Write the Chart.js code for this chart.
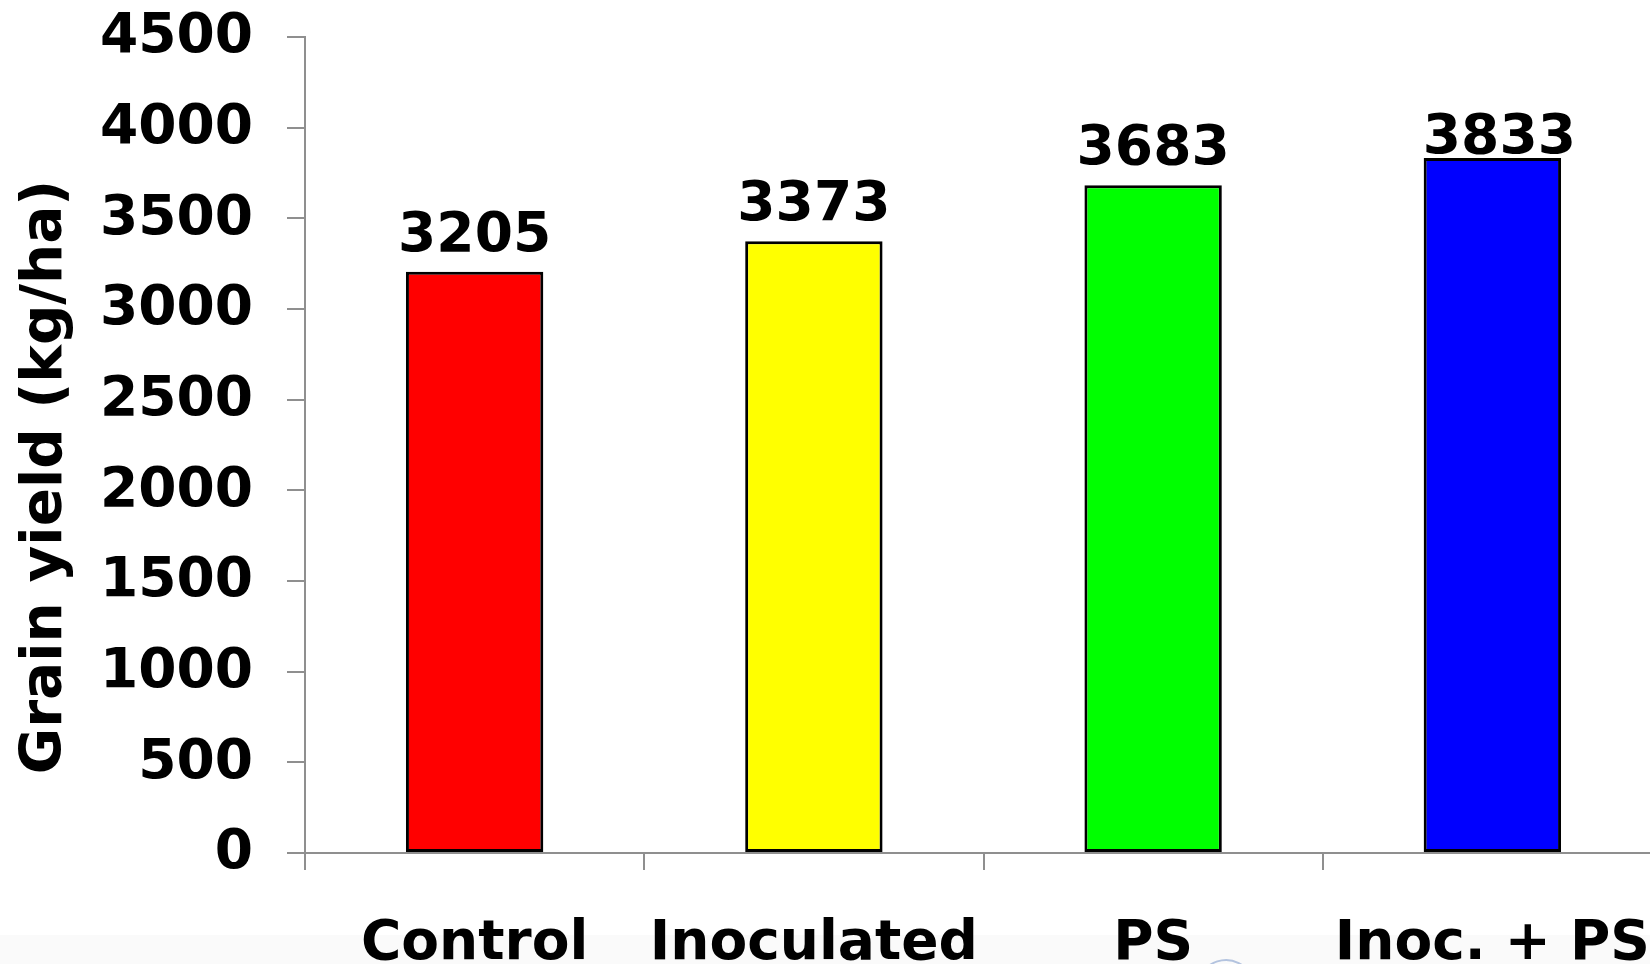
<!DOCTYPE html>
<html>
<head>
<meta charset="utf-8">
<script src="https://cdn.jsdelivr.net/npm/chart.js@4"></script>
<style>
  html, body { margin: 0; padding: 0; background: #ffffff; overflow: hidden; width: 1650px; height: 964px; }
  canvas { display: block; }
</style>
</head>
<body>
<canvas id="yieldChart" width="1662" height="964"></canvas>
<script>
// Grain yield by treatment
const categories = ['Control', 'Inoculated', 'PS', 'Inoc. + PS'];
const grainYield = [3205, 3373, 3683, 3833];
const barColors = ['#ff0000', '#ffff00', '#00ff00', '#0000ff'];
const yTicks = { min: 0, max: 4500, step: 500 };
const yTitle = 'Grain yield (kg/ha)';

const FONT = '"DejaVu Sans", Verdana, sans-serif';
const AXIS_GREY = '#8f8f8f';

// Page background with the pale strip along the bottom edge
const backdrop = {
  id: 'backdrop',
  beforeDraw(chart) {
    const ctx = chart.ctx;
    ctx.save();
    ctx.fillStyle = '#ffffff';
    ctx.fillRect(0, 0, chart.width, chart.height);
    ctx.fillStyle = '#fafafa';
    ctx.fillRect(0, 935, chart.width, chart.height - 935);
    ctx.strokeStyle = 'rgba(120,150,200,0.55)';
    ctx.lineWidth = 2;
    ctx.beginPath();
    ctx.arc(1226, 988, 28, Math.PI * 1.15, Math.PI * 1.85);
    ctx.stroke();
    ctx.restore();
  }
};

// Rotated y-axis title
const sideTitle = {
  id: 'sideTitle',
  afterDraw(chart, args, opts) {
    const ctx = chart.ctx;
    ctx.save();
    ctx.translate(opts.x, opts.y);
    ctx.rotate(-Math.PI / 2);
    ctx.font = 'bold 56.5px ' + FONT;
    ctx.fillStyle = '#000000';
    ctx.textAlign = 'center';
    ctx.textBaseline = 'middle';
    ctx.fillText(opts.text, 0, 0);
    ctx.restore();
  }
};

// Value printed above each bar
const barValues = {
  id: 'barValues',
  afterDatasetsDraw(chart, args, opts) {
    const ctx = chart.ctx;
    const meta = chart.getDatasetMeta(0);
    ctx.save();
    ctx.font = 'bold 55px ' + FONT;
    ctx.fillStyle = '#000000';
    ctx.textAlign = 'center';
    ctx.textBaseline = 'alphabetic';
    meta.data.forEach((bar, i) => {
      const v = chart.data.datasets[0].data[i];
      const dx = (opts.shiftX && opts.shiftX[i]) || 0;
      const gap = (opts.gap && opts.gap[i] != null) ? opts.gap[i] : 21;
      ctx.fillText(String(v), bar.x + dx, bar.y - gap);
    });
    ctx.restore();
  }
};

new Chart(document.getElementById('yieldChart'), {
  type: 'bar',
  data: {
    labels: categories,
    datasets: [{
      data: grainYield,
      backgroundColor: barColors,
      borderColor: '#000000',
      borderWidth: 3,
      borderSkipped: false,
      categoryPercentage: 1.0,
      barPercentage: 0.405
    }]
  },
  options: {
    responsive: false,
    animation: false,
    devicePixelRatio: 1,
    layout: { padding: { top: 37, left: 0, right: 0, bottom: 0 } },
    plugins: {
      legend: { display: false },
      tooltip: { enabled: false },
      sideTitle: { text: yTitle, x: 46, y: 477 },
      barValues: { gap: [21, 21, 21, 5], shiftX: [0, 0, 0, 7] }
    },
    scales: {
      x: {
        offset: true,
        grid: {
          offset: true,
          drawOnChartArea: false,
          drawTicks: true,
          tickLength: 17,
          color: AXIS_GREY,
          lineWidth: 2
        },
        border: { display: true, color: AXIS_GREY, width: 2 },
        ticks: {
          autoSkip: false,
          maxRotation: 0,
          minRotation: 0,
          padding: 42,
          color: '#000000',
          font: { family: FONT, size: 55, weight: 'bold' }
        },
        afterFit(scale) {
          scale.height = 111;
          scale.paddingLeft = 0;
          scale.paddingRight = 0;
        }
      },
      y: {
        min: yTicks.min,
        max: yTicks.max,
        grid: {
          drawOnChartArea: false,
          drawTicks: true,
          tickLength: 18,
          color: AXIS_GREY,
          lineWidth: 2
        },
        border: { display: true, color: AXIS_GREY, width: 2 },
        ticks: {
          stepSize: yTicks.step,
          padding: 34,
          labelOffset: 1,
          color: '#000000',
          font: { family: FONT, size: 55, weight: 'bold' },
          callback: (value) => String(value)
        },
        afterFit(scale) {
          scale.width = 305;
          scale.paddingTop = 0;
          scale.paddingBottom = 0;
        }
      }
    }
  },
  plugins: [backdrop, sideTitle, barValues]
});
</script>
</body>
</html>
